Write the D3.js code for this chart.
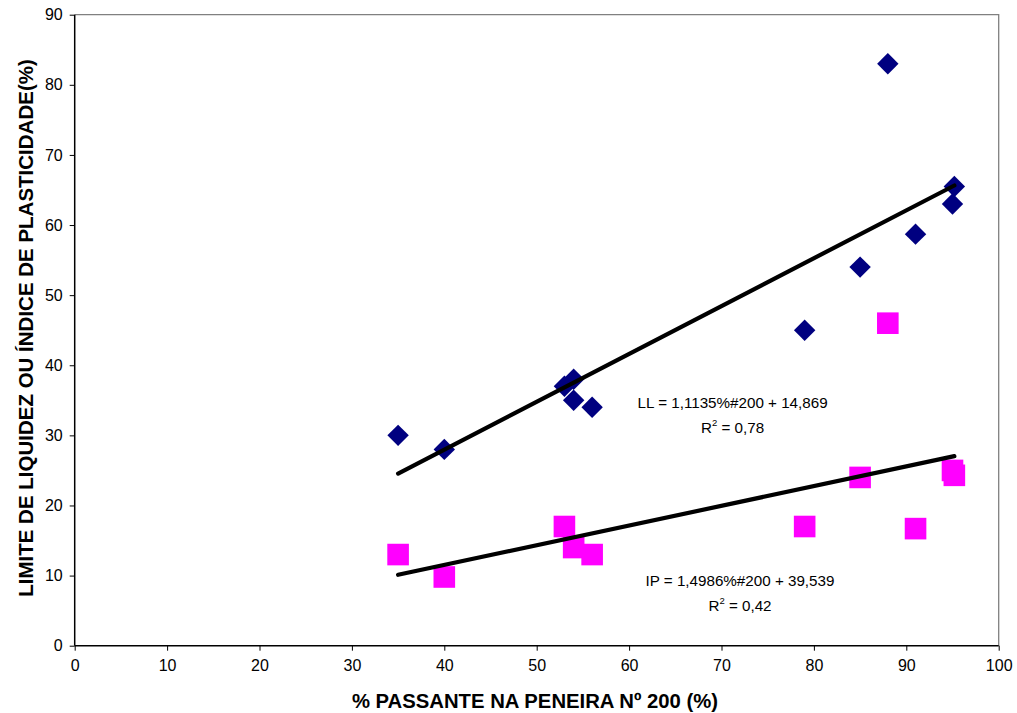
<!DOCTYPE html>
<html>
<head>
<meta charset="utf-8">
<script src="https://cdn.jsdelivr.net/npm/d3@7"></script>
<style>
	body { margin: 0; background: #fff; }
	svg { font-family: "Liberation Sans", Arial, sans-serif; }
</style>
</head>
<body>
<div id="chart"></div>
<script>
// % passante na peneira nº 200
let llX = [35, 40, 53, 54, 54, 56, 79, 85, 88, 91, 95, 95.2];
// limite de liquidez (LL)
let llY = [30, 28, 37, 38, 35, 34, 45, 54, 83, 58.7, 63, 65.5];

let ipX = [35, 40, 53, 54, 56, 79, 85, 88, 91, 95, 95.2];
// indice de plasticidade (IP)
let ipY = [13, 9.8, 17, 14, 13, 17, 24, 46, 16.7, 25, 24.3];

let xTicks = [0, 10, 20, 30, 40, 50, 60, 70, 80, 90, 100];
let yTicks = [0, 10, 20, 30, 40, 50, 60, 70, 80, 90];

let llLabel = ["LL = 1,1135%#200 + 14,869", "0,78"];
let ipLabel = ["IP = 1,4986%#200 + 39,539", "0,42"];

let width = 1017;
let height = 713;
let margin = ({top: 14.7, right: 18.3, bottom: 67.3, left: 74.7});

const svg = d3.select("#chart").append("svg")
	.attr("width", width)
	.attr("height", height);

let x = d3.scaleLinear()
	.domain([0, 100])
	.range([margin.left, width - margin.right]);

let y = d3.scaleLinear()
	.domain([0, 90])
	.range([height - margin.bottom, margin.top]);

// least squares fit, drawn between min and max x
let fit = function(xs, ys) {
	const mx = d3.mean(xs), my = d3.mean(ys);
	let sxy = 0, sxx = 0;
	xs.forEach((v, i) => { sxy += (v - mx) * (ys[i] - my); sxx += (v - mx) * (v - mx); });
	const b = sxy / sxx, a = my - b * mx;
	const x0 = d3.min(xs), x1 = d3.max(xs);
	return [[x0, a + b * x0], [x1, a + b * x1]];
};

// plot frame (grey top/right)
svg.append("path")
	.attr("fill", "none")
	.attr("stroke", "#808080")
	.attr("stroke-width", 1.3)
	.attr("d", `M${x(0)},${y(90)}H${x(100)}V${y(0)}`);

let xAxis = g => g
	.attr("transform", `translate(0,${y(0)})`)
	.call(d3.axisBottom(x).tickValues(xTicks).tickSize(5).tickPadding(9))
	.call(g => g.selectAll("text").attr("font-size", 16).attr("font-family", "Liberation Sans, Arial").attr("fill", "#000"))
	.call(g => g.selectAll("line").attr("stroke", "#000"))
	.call(g => g.select(".domain").attr("stroke", "#000").attr("stroke-width", 1.5).attr("d", `M${x(0)},0H${x(100)}`));

let yAxis = g => g
	.attr("transform", `translate(${x(0)},0)`)
	.call(d3.axisLeft(y).tickValues(yTicks).tickSize(5).tickPadding(7))
	.call(g => g.selectAll("text").attr("font-size", 16).attr("font-family", "Liberation Sans, Arial").attr("fill", "#000"))
	.call(g => g.selectAll("line").attr("stroke", "#000"))
	.call(g => g.select(".domain").attr("stroke", "#000").attr("stroke-width", 1.5).attr("d", `M0,${y(0)}V${y(90)}`));

svg.append("g").call(xAxis);
svg.append("g").call(yAxis);

// LL diamonds
svg.append("g")
	.selectAll("path")
	.data(llX.map((v, i) => [v, llY[i]]))
	.enter().append("path")
	.attr("fill", "#000080")
	.attr("d", d => `M${x(d[0])},${y(d[1]) - 10.7}l10.7,10.7l-10.7,10.7l-10.7,-10.7Z`);

// IP squares
svg.append("g")
	.selectAll("rect")
	.data(ipX.map((v, i) => [v, ipY[i]]))
	.enter().append("rect")
	.attr("fill", "#ff00ff")
	.attr("x", d => x(d[0]) - 10.8)
	.attr("y", d => y(d[1]) - 10.8)
	.attr("width", 21.6)
	.attr("height", 21.6);

// trend lines
let line = d3.line().x(d => x(d[0])).y(d => y(d[1]));
[fit(llX, llY), fit(ipX, ipY)].forEach(seg => {
	svg.append("path")
		.attr("fill", "none")
		.attr("stroke", "#000")
		.attr("stroke-width", 4.2)
		.attr("stroke-linecap", "round")
		.attr("d", line(seg));
});

// equation labels
let eqLabel = function(lbl, cx, by) {
	const g = svg.append("g").attr("font-size", 15.2).attr("text-anchor", "middle").attr("fill", "#000");
	g.append("text").attr("x", cx).attr("y", by).text(lbl[0]);
	const t = g.append("text").attr("x", cx).attr("y", by + 25);
	t.append("tspan").text("R");
	t.append("tspan").attr("font-size", 9.5).attr("dy", -7).text("2");
	t.append("tspan").attr("dy", 7).text(" = " + lbl[1]);
};
eqLabel(llLabel, x(71.2), y(33.9));
eqLabel(ipLabel, x(72.0), y(8.5));

// axis titles
svg.append("text")
	.attr("x", 535)
	.attr("y", 708)
	.attr("text-anchor", "middle")
	.attr("font-weight", "bold")
	.attr("font-size", 20.3)
	.text("% PASSANTE NA PENEIRA Nº 200 (%)");

svg.append("text")
	.attr("transform", `translate(33,${328}) rotate(-90)`)
	.attr("text-anchor", "middle")
	.attr("font-weight", "bold")
	.attr("font-size", 20.5)
	.text("LIMITE DE LIQUIDEZ OU ÍNDICE DE PLASTICIDADE(%)");
</script>
</body>
</html>
